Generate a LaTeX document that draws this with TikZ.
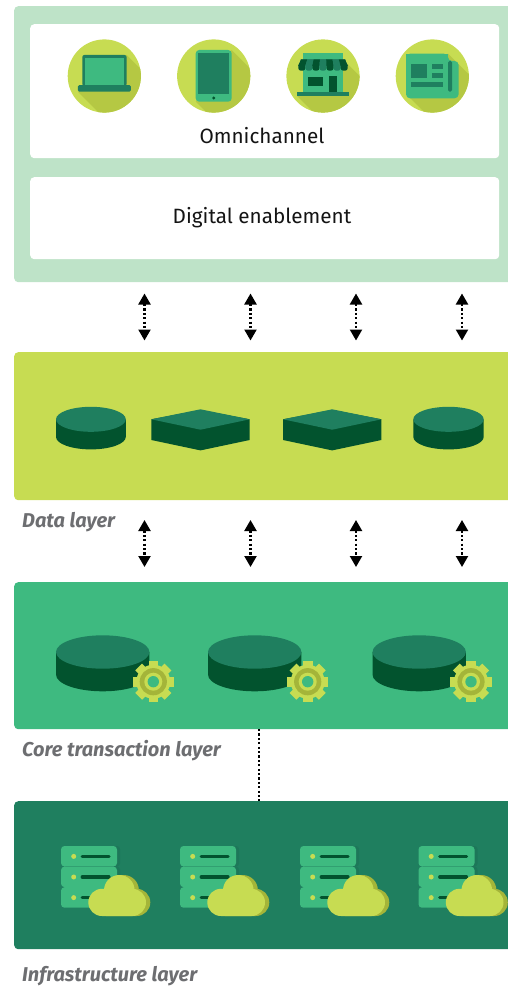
\documentclass[tikz,border=0pt]{standalone}
\usepackage{fontspec}
\setmainfont{Fira Sans}
\usetikzlibrary{arrows.meta,calc}
\definecolor{paleg}{HTML}{BEE3C8}
\definecolor{lime}{HTML}{C7DC52}
\definecolor{limesh}{HTML}{B5C843}
\definecolor{olive}{HTML}{A4B539}
\definecolor{midg}{HTML}{3EBA80}
\definecolor{teal}{HTML}{1F7F5F}
\definecolor{deepg}{HTML}{02532E}
\definecolor{srvsh}{HTML}{1D7759}
\definecolor{greytxt}{HTML}{6D6E71}
\tikzset{
  layerbox/.style={rectangle,rounded corners=4pt,inner sep=0pt,anchor=north west},
  whitebox/.style={rectangle,rounded corners=4pt,inner sep=0pt,anchor=north west,fill=white},
  boxlabel/.style={font=\fontsize{20.7}{24}\selectfont,text=black!92,inner sep=0pt},
  laylabel/.style={font=\fontsize{20}{24}\selectfont\bfseries\itshape,text=greytxt,inner sep=0pt,anchor=west},
  dualarrow/.style={{Triangle[width=12pt,length=11pt]}-{Triangle[width=12pt,length=11pt]},line width=2.2pt,dash pattern=on 2.2pt off 2.2pt},
  dotline/.style={line width=2.2pt,dash pattern=on 2.2pt off 2.2pt}
}
\newcommand{\shadowband}[4]{\fill[limesh] (#1,#2) -- ++(70,70) -- ($(#3,#4)+(70,70)$) -- (#3,#4) -- cycle;}
\newcommand{\lowdisc}[5]{% cx, top cy, rx, ry, depth
  \fill[deepg] (#1-#3,#2) -- (#1+#3,#2) -- (#1+#3,#2+#5) arc[start angle=0,end angle=180,x radius=#3,y radius=#4] -- cycle;
  \fill[teal] (#1,#2) ellipse [x radius=#3,y radius=#4];}
\newcommand{\slab}[1]{% left x
  \begin{scope}[shift={(#1,0)}]
  \fill[deepg] (0,419.3) -- (49.2,410) -- (98.4,419.3) -- (98.4,440) -- (49.2,450.4) -- (0,440) -- cycle;
  \fill[teal] (0,419.3) -- (49.2,409.3) -- (98.4,419.3) -- (49.2,429.7) -- cycle;
  \end{scope}}
\newcommand{\gearicon}[2]{%
  \begin{scope}[shift={(#1,#2)}]
  \foreach \a in {0,45,...,315}{\fill[lime,rotate=\a] (-4.8,-20.7) rectangle (4.8,0);}
  \fill[lime] (0,0) circle[radius=17];
  \fill[olive] (0,0) circle[radius=13.6];
  \fill[lime] (0,0) circle[radius=9];
  \fill[midg] (0,0) circle[radius=5.7];
  \end{scope}}
\newcommand{\serverset}[1]{%
  \begin{scope}[shift={(#1,846)}]
  \foreach \y in {0,20.6,41.2}{
    \fill[srvsh,rounded corners=3pt] (2,\y) rectangle (59,\y+20.5);
    \fill[midg,rounded corners=3.5pt] (0,\y) rectangle (56,\y+20.5);
    \fill[lime] (12.7,\y+10.4) circle[radius=2.5];
    \draw[deepg,line width=3.2pt,line cap=round] (21.2,\y+10.4) -- (48,\y+10.4);
  }
  \foreach \dx/\col in {4.3/olive,0/lime}{
    \fill[\col,rounded corners=13.6pt] (27.3+\dx,42.8) rectangle (85+\dx,70);
    \fill[\col] (58.3+\dx,44.3) circle[radius=15.3];
  }
  \end{scope}}
\begin{document}
\begin{tikzpicture}[x=1pt,y=-1pt]
\useasboundingbox (0,0) rectangle (508,990);
\begin{scope}
\clip (0,0) rectangle (508,990);
% layers
\node[layerbox,fill=paleg,minimum width=504pt,minimum height=276pt] (top) at (14,6) {};
\node[whitebox,minimum width=469pt,minimum height=134pt] (omni) at (30,24) {};
\node[whitebox,minimum width=469pt,minimum height=82pt] (digi) at (30,177) {};
\node[layerbox,fill=lime,minimum width=504pt,minimum height=148pt] (data) at (14,352) {};
\node[layerbox,fill=midg,minimum width=504pt,minimum height=147pt] (core) at (14,582) {};
\node[layerbox,fill=teal,minimum width=504pt,minimum height=148pt] (infra) at (14,801) {};

% laptop
\begin{scope}[shift={(104.3,76)}]
\fill[lime] (0,0) circle[radius=36.6];
\begin{scope}
\clip (0,0) circle[radius=36.6];
\shadowband{22.3}{-21}{-26.5}{15.7}
\end{scope}
\fill[teal,rounded corners=2pt] (-22,-21) rectangle (22.3,10);
\fill[midg] (-19,-18) rectangle (19.3,9);
\fill[teal,rounded corners=1.5pt] (-26.5,9) rectangle (26.6,15.7);
\end{scope}
% tablet
\begin{scope}[shift={(213.7,76)}]
\fill[lime] (0,0) circle[radius=36.6];
\begin{scope}
\clip (0,0) circle[radius=36.6];
\shadowband{18}{-26}{-18}{25.7}
\end{scope}
\fill[midg,rounded corners=3.5pt] (-18,-26) rectangle (18,25.7);
\fill[teal] (-15.3,-23.3) rectangle (15.3,18);
\fill[deepg] (0,22) circle[radius=1.7];
\end{scope}
% shop
\begin{scope}[shift={(323,76)}]
\fill[lime] (0,0) circle[radius=36.6];
\begin{scope}
\clip (0,0) circle[radius=36.6];
\shadowband{24.7}{-12}{-26}{20}
\end{scope}
\fill[midg] (-19.7,-22.7) rectangle (20,17);
\fill[teal] (-22,-16.7) -- (22,-16.7) -- (24.7,-10) -- (-24.7,-10) -- cycle;
\foreach \i/\col in {0/deepg,1/teal,2/deepg,3/teal,4/deepg,5/teal,6/deepg}{
  \fill[\col,rounded corners=2.6pt] (-24.7+\i*7.06,-13) rectangle (-24.7+\i*7.06+7.06,-5.3);
  \fill[\col] (-22+\i*6.3,-16.7) -- (-22+\i*6.3+6.3,-16.7) -- (-24.7+\i*7.06+7.06,-10) -- (-24.7+\i*7.06,-10) -- cycle;
}
\fill[deepg] (-15,1) rectangle (0,10);
\fill[deepg] (5.7,0) rectangle (14.3,16);
\fill[teal] (-26,16) rectangle (26,20);
\end{scope}
% newspaper
\begin{scope}[shift={(432.3,76)}]
\fill[lime] (0,0) circle[radius=36.6];
\begin{scope}
\clip (0,0) circle[radius=36.6];
\shadowband{15.7}{-22.3}{-26.3}{18}
\end{scope}
\fill[midg,rounded corners=4pt] (-26.3,-22.3) -- (-26.3,22.3) -- (26.3,22.3) -- (26.3,-15) -- (15.7,-15) -- (15.7,-22.3) -- cycle;
\fill[midg] (-26.3,-22.3) rectangle (-20,-15);
\fill[midg] (10,-22.3) rectangle (15.7,-15);
\fill[teal] (-21.3,-12) rectangle (-5,2);
\fill[teal] (0,-12) rectangle (10.7,-7);
\fill[teal] (0,-3) rectangle (10.7,2);
\fill[teal] (-21.3,6) rectangle (10.7,11);
\fill[teal,rounded corners=1.5pt] (15.7,-15) rectangle (19.7,15.7);
\end{scope}

\node[boxlabel] (omnit) at (262,136) {Omnichannel};
\node[boxlabel] (digit) at (262,218) {Digital enablement};

% data layer shapes
\lowdisc{90.9}{419.3}{34.9}{12.5}{17.6}
\slab{151.3}
\slab{283}
\lowdisc{448.5}{419.3}{35.2}{12.5}{17.6}

% core layer shapes
\lowdisc{102.7}{652}{46.7}{16.7}{22.6}
\lowdisc{254.7}{652}{46.7}{16.7}{22.6}
\lowdisc{419.2}{652}{46.7}{16.7}{22.6}
\gearicon{153.3}{681.7}
\gearicon{307.7}{681.7}
\gearicon{471}{681.7}

% infrastructure
\serverset{61}
\serverset{180}
\serverset{300}
\serverset{418.5}
\end{scope}

\node[laylabel] (ldata) at (22,522) {Data layer};
\node[laylabel] (lcore) at (22,751) {Core transaction layer};
\node[laylabel] (linfra) at (22,976) {Infrastructure layer};

% connectors
\foreach \n/\x in {a/144.5,b/250.5,c/356,d/462}{
  \coordinate (u\n) at (\x,293.5);
  \coordinate (v\n) at (\x,340.5);
  \coordinate (p\n) at (\x,520);
  \coordinate (q\n) at (\x,567);
  \draw[dualarrow] (u\n) -- (v\n);
  \draw[dualarrow] (p\n) -- (q\n);
}
\coordinate (lnk) at (259,729);
\draw[dotline] (lnk) -- (lnk |- infra.north);
\end{tikzpicture}
\end{document}
